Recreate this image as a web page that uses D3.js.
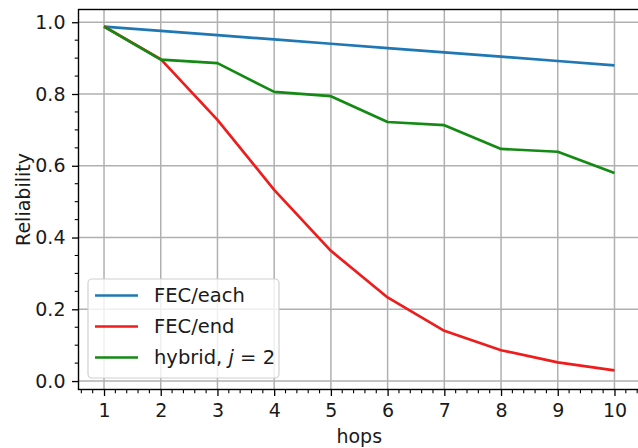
<!DOCTYPE html>
<html>
<head>
<meta charset="utf-8">
<script src="https://cdn.jsdelivr.net/npm/d3@7"></script>
<style>
  body { margin: 0; background: #fff; }
  svg { display: block; font-family: "DejaVu Sans", sans-serif; }
</style>
</head>
<body>
<svg></svg>
<script>
const hops = [1, 2, 3, 4, 5, 6, 7, 8, 9, 10];
const fecEach = [0.988, 0.976, 0.964, 0.952, 0.940, 0.928, 0.916, 0.904, 0.892, 0.880];
const fecEnd = [0.988, 0.897, 0.728, 0.533, 0.363, 0.233, 0.140, 0.086, 0.052, 0.030];
const hybrid = [0.988, 0.896, 0.886, 0.806, 0.794, 0.722, 0.713, 0.647, 0.639, 0.580];
const xTicks = [1, 2, 3, 4, 5, 6, 7, 8, 9, 10];
const yTicks = [0.0, 0.2, 0.4, 0.6, 0.8, 1.0];

const series = [
  { name: "FEC/each", values: fecEach, color: "#1f77b4" },
  { name: "FEC/end", values: fecEnd, color: "#ee1c1c" },
  { name: "hybrid", values: hybrid, color: "#138a13" }
];

const width = 638;
const height = 448;
const padLeft = 78.5, padRight = 640, padTop = 9.5, padBottom = 389.5;
const fontSize = "19px";

const svg = d3.select("svg")
  .attr("width", width)
  .attr("height", height);

const x = d3.scaleLinear().domain([0.55, 10.45]).range([padLeft, padRight]);
const y = d3.scaleLinear().domain([-0.0235, 1.0355]).range([padBottom, padTop]);

// grid
svg.append("g")
  .selectAll("line")
  .data(xTicks)
  .join("line")
    .attr("x1", d => x(d)).attr("x2", d => x(d))
    .attr("y1", padTop).attr("y2", padBottom)
    .attr("stroke", "#b0b0b0").attr("stroke-width", 1.5);

svg.append("g")
  .selectAll("line")
  .data(yTicks)
  .join("line")
    .attr("x1", padLeft).attr("x2", padRight)
    .attr("y1", d => y(d)).attr("y2", d => y(d))
    .attr("stroke", "#b0b0b0").attr("stroke-width", 1.5);

// lines
const line = d3.line()
  .x((d, i) => x(hops[i]))
  .y(d => y(d));

svg.append("g")
  .selectAll("path")
  .data(series)
  .join("path")
    .attr("d", d => line(d.values))
    .attr("fill", "none")
    .attr("stroke", d => d.color)
    .attr("stroke-width", 2.7)
    .attr("stroke-linejoin", "round");

// axes
const xMinor = d3.range(0.6, 10.45, 0.2).filter(v => Math.abs(v - Math.round(v)) > 0.01);
const yMinor = d3.range(0, 1.04, 0.05).filter(v => Math.abs(v * 5 - Math.round(v * 5)) > 0.01);

const xAxis = d3.axisBottom(x).tickValues(xTicks).tickSize(6.5).tickPadding(7.5).tickSizeOuter(0);
const yAxis = d3.axisLeft(y).tickValues(yTicks).tickFormat(d3.format(".1f")).tickSize(6.5).tickPadding(6.5).tickSizeOuter(0);

const gx = svg.append("g")
  .attr("transform", `translate(0, ${padBottom})`)
  .call(xAxis);
gx.append("g").selectAll("line").data(xMinor).join("line")
  .attr("x1", d => x(d)).attr("x2", d => x(d))
  .attr("y1", 0).attr("y2", 3.8)
  .attr("stroke", "#000").attr("stroke-width", 1.1);

const gy = svg.append("g")
  .attr("transform", `translate(${padLeft}, 0)`)
  .call(yAxis);
gy.append("g").selectAll("line").data(yMinor).join("line")
  .attr("y1", d => y(d)).attr("y2", d => y(d))
  .attr("x1", 0).attr("x2", -3.8)
  .attr("stroke", "#000").attr("stroke-width", 1.1);

[gx, gy].forEach(g => {
  g.select(".domain").remove();
  g.selectAll(".tick line").attr("stroke", "#000").attr("stroke-width", 1.3);
  g.selectAll(".tick text")
    .attr("fill", "#1a1a1a")
    .style("font-size", fontSize)
    .style("font-family", "DejaVu Sans, sans-serif");
});

// spines
svg.append("rect")
  .attr("x", padLeft).attr("y", padTop)
  .attr("width", padRight - padLeft).attr("height", padBottom - padTop)
  .attr("fill", "none")
  .attr("stroke", "#000")
  .attr("stroke-width", 1.4);

// axis labels
svg.append("text")
  .attr("x", (padLeft + padRight) / 2)
  .attr("y", 443)
  .style("text-anchor", "middle")
  .style("font-size", fontSize)
  .attr("fill", "#1a1a1a")
  .text("hops");

svg.append("text")
  .attr("transform", "rotate(-90)")
  .attr("x", -(padTop + padBottom) / 2)
  .attr("y", 30)
  .style("text-anchor", "middle")
  .style("font-size", fontSize)
  .attr("fill", "#1a1a1a")
  .text("Reliability");

// legend
const legend = svg.append("g");
legend.append("rect")
  .attr("x", 88).attr("y", 279)
  .attr("width", 191).attr("height", 99)
  .attr("rx", 4)
  .attr("fill", "#fff").attr("fill-opacity", 0.8)
  .attr("stroke", "#d0d0d0").attr("stroke-width", 1.2);

const rows = legend.selectAll("g.row")
  .data(series)
  .join("g")
    .attr("class", "row")
    .attr("transform", (d, i) => `translate(0, ${295.5 + i * 31})`);

rows.append("line")
  .attr("x1", 95).attr("x2", 138)
  .attr("stroke", d => d.color)
  .attr("stroke-width", 2.7);

rows.append("text")
  .attr("x", 154)
  .attr("dy", "0.35em")
  .style("font-size", "19.5px")
  .attr("fill", "#1a1a1a")
  .each(function(d) {
    const t = d3.select(this);
    if (d.name === "hybrid") {
      t.append("tspan").text("hybrid, ");
      t.append("tspan").style("font-style", "italic").text("j");
      t.append("tspan").text(" = 2");
    } else {
      t.text(d.name);
    }
  });
</script>
</body>
</html>
